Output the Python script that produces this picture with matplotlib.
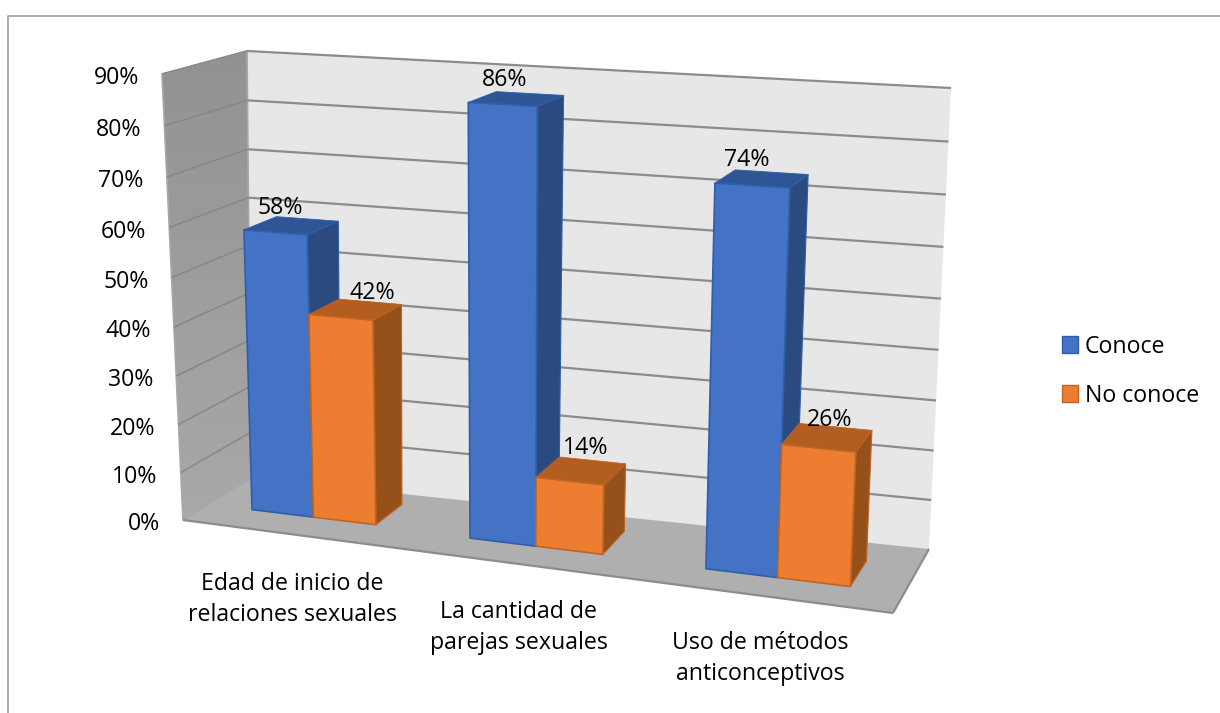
import numpy as np
import matplotlib
matplotlib.use("Agg")
import matplotlib.pyplot as plt
from matplotlib.colors import LinearSegmentedColormap
from matplotlib.patches import Polygon, Patch

plt.rcParams['font.family'] = ['Open Sans', 'DejaVu Sans']

categories = ["Edad de inicio de\nrelaciones sexuales", "La cantidad de\nparejas sexuales", "Uso de métodos\nanticonceptivos"]
conoce = [0.58, 0.86, 0.74]
no_conoce = [0.42, 0.14, 0.26]
series_names = ["Conoce", "No conoce"]
ticks = [0, .1, .2, .3, .4, .5, .6, .7, .8, .9]

FONT = 16.7
# projection of the 3-D chart box (x: category, y: value, z: depth) on the picture
corners3d = [(0,0,0),(0,.9,0),(0,0,1),(0,.9,1),(3,0,1),(3,.9,1),(3,0,0)]
corners2d = [(183,520),(162,74),(251,478),(247,51),(929,549),(951,88),(893,613)]
A = []
for (X,Y,Z),(u,v) in zip(corners3d, corners2d):
    A.append([X,Y,Z,1,0,0,0,0,-u*X,-u*Y,-u*Z,-u])
    A.append([0,0,0,0,X,Y,Z,1,-v*X,-v*Y,-v*Z,-v])
P = np.linalg.svd(np.array(A,float))[2][-1].reshape(3,4)
def persp(x,y,z):
    p = P @ np.array([x,y,z,1.0])
    return np.array([p[0]/p[2], p[1]/p[2]])
resid = {c: np.array(t,float)-persp(*c) for c,t in zip(corners3d,corners2d)}
resid[(3,.9,0)] = np.zeros(2)
def proj(x,y,z):
    r = np.zeros(2)
    for (X,Y,Z),d in resid.items():
        w = (x/3 if X else 1-x/3)*(y/.9 if Y else 1-y/.9)*(z if Z else 1-z)
        r = r + w*d
    return persp(x,y,z)+r

fig = plt.figure(figsize=(12.2,7.13),dpi=100)
ax = fig.add_axes([0,0,1,1]); ax.set_xlim(0,1220); ax.set_ylim(713,0); ax.axis('off')

def poly(pts,fc,ec='none',lw=0,z=1):
    p = Polygon([proj(*q) for q in pts],closed=True,fc=fc,ec=ec,lw=lw,zorder=z,joinstyle='round')
    ax.add_patch(p); return p
def seg(a,b,c,lw,z=2):
    p,q = proj(*a),proj(*b)
    ax.plot([p[0],q[0]],[p[1],q[1]],color=c,lw=lw,zorder=z,solid_capstyle='butt')

# chart border
ax.plot([1220,7.5,7.5],[15.5,15.5,713],color='#a6a6a6',lw=1.3,zorder=1)

# walls and floor
wall = poly([(0,0,0),(0,.9,0),(0,.9,1),(0,0,1)],'none','#a8a8a8',1.2,z=1.2)
grad = np.linspace(0,1,50)[:,None]
im = ax.imshow(grad,extent=(150,260,530,45),cmap=LinearSegmentedColormap.from_list('w',['#929292','#a9a9a9']),aspect='auto',zorder=1)
im.set_clip_path(wall)
ax.set_xlim(0,1220); ax.set_ylim(713,0)
poly([(0,0,1),(0,.9,1),(3,.9,1),(3,0,1)],'#e7e7e7')
poly([(0,0,0),(0,0,1),(3,0,1),(3,0,0)],'#afafaf')
for t in ticks[1:]:
    seg((0,t,0),(0,t,1),'#878787',1.1)
    seg((0,t,1),(3,t,1),'#8c8c8c',1.6)
seg((0,0,0),(3,0,0),'#8c8c8c',1.6)
seg((3,0,0),(3,0,1),'#8c8c8c',1.6)

# bars
x_start = [0.206, 1.204, 2.21]
bar_w = [0.285, 0.286, 0.29]
z_front = [0.357, 0.324, 0.297]
z_back = [0.787, 0.746, 0.710]
styles = [('#4472c4','#2f5597','#2a4a80','#2f5fa8'),('#ed7d31','#b35d20','#96511b','#c06423')]
order = 10
for i in range(3):
    for s,vals in enumerate([conoce,no_conoce]):
        v = vals[i]
        x0 = x_start[i]+s*bar_w[i]; x1 = x0+bar_w[i]
        z0,z1 = z_front[i],z_back[i]
        front,top,side,edge = styles[s]
        poly([(x1,0,z0),(x1,0,z1),(x1,v,z1),(x1,v,z0)],side,edge,0.8,z=order)
        poly([(x0,v,z0),(x1,v,z0),(x1,v,z1),(x0,v,z1)],top,edge,0.6,z=order+0.1)
        poly([(x0,0,z0),(x1,0,z0),(x1,v,z0),(x0,v,z0)],front,edge,1.2,z=order+0.2)
        order += 1

# tick labels on the front left edge of the left wall
for t in ticks:
    u,w = proj(0,t,0)
    ax.text(u-23,w+4,f"{t*100:.0f}%",ha='right',va='center',fontsize=FONT,color='#000000',zorder=30)

# data labels
lab_dx = [[-11,-12,-15],[17,5,2]]
lab_dy = [[-18,-19,-19],[-16,-23,-17]]
for s,vals in enumerate([conoce,no_conoce]):
    for i,v in enumerate(vals):
        x0 = x_start[i]+s*bar_w[i]
        u,w = proj(x0+bar_w[i]/2,v,(z_front[i]+z_back[i])/2)
        ax.text(u+lab_dx[s][i],w+lab_dy[s][i],f"{v*100:.0f}%",ha='center',va='center',fontsize=FONT,color='#000000',zorder=40)

# category labels
cat_x = [292,519,760]
cat_y = [599.5,627.5,658.5]
for c,u,w in zip(categories,cat_x,cat_y):
    ax.text(u,w,c,ha='center',va='center',fontsize=FONT,linespacing=1.44,color='#000000',zorder=30)

# legend
handles = [Patch(fc=styles[0][0],ec=styles[0][3],lw=1),Patch(fc=styles[1][0],ec=styles[1][3],lw=1)]
leg = ax.legend(handles,series_names,loc='upper left',bbox_to_anchor=(1050,323),bbox_transform=ax.transData,
                frameon=False,fontsize=FONT,handlelength=0.7,handleheight=0.7,handletextpad=0.3,labelspacing=1.08,borderpad=0.5,borderaxespad=0)

fig.savefig('out.png',dpi=100)
